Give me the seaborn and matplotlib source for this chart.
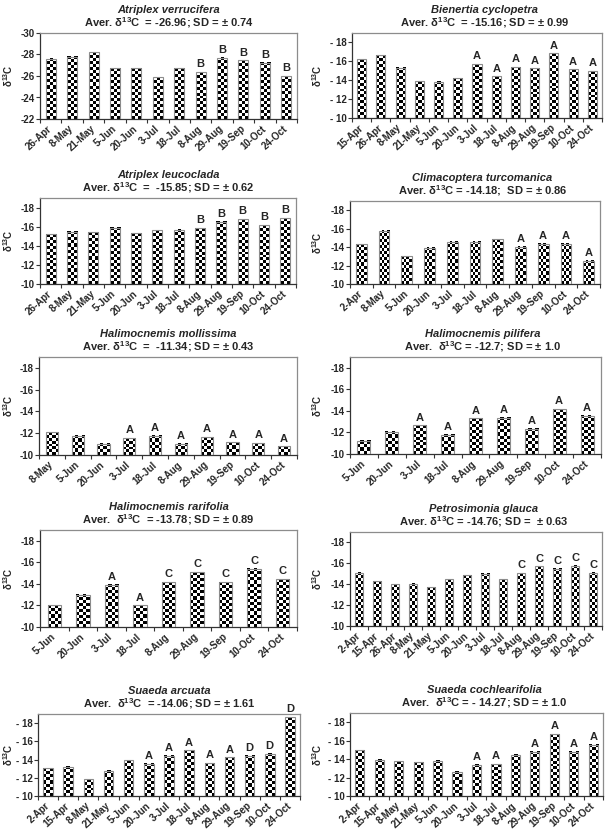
import numpy as np
import matplotlib
matplotlib.use("Agg")
import matplotlib.pyplot as plt
import seaborn as sns
import pandas as pd

# values (delta 13C, per mille)
verrucifera_dates = ["26-Apr", "8-May", "21-May", "5-Jun", "20-Jun", "3-Jul", "18-Jul", "8-Aug", "29-Aug", "19-Sep", "10-Oct", "24-Oct"]
verrucifera_vals = [-27.6, -27.8, -28.2, -26.7, -26.7, -25.9, -26.7, -26.35, -27.7, -27.45, -27.25, -26.0]
verrucifera_marks = ["", "", "", "", "", "", "", "B", "B", "B", "B", "B"]

bienertia_dates = ["15-Apr", "26-Apr", "8-May", "21-May", "5-Jun", "20-Jun", "3-Jul", "18-Jul", "8-Aug", "29-Aug", "19-Sep", "10-Oct", "24-Oct"]
bienertia_vals = [-16.2, -16.65, -15.3, -13.9, -13.85, -14.2, -15.7, -14.4, -15.4, -15.25, -16.85, -15.15, -14.95]
bienertia_marks = ["", "", "", "", "", "", "A", "A", "A", "A", "A", "A", "A"]

leucoclada_dates = ["26-Apr", "8-May", "21-May", "5-Jun", "20-Jun", "3-Jul", "18-Jul", "8-Aug", "29-Aug", "19-Sep", "10-Oct", "24-Oct"]
leucoclada_vals = [-15.2, -15.45, -15.4, -15.9, -15.3, -15.6, -15.7, -15.85, -16.5, -16.8, -16.15, -16.9]
leucoclada_marks = ["", "", "", "", "", "", "", "B", "B", "B", "B", "B"]

climacoptera_dates = ["2-Apr", "8-May", "5-Jun", "20-Jun", "3-Jul", "18-Jul", "8-Aug", "29-Aug", "19-Sep", "10-Oct", "24-Oct"]
climacoptera_vals = [-14.3, -15.75, -13.0, -13.95, -14.6, -14.6, -14.85, -14.05, -14.35, -14.35, -12.5]
climacoptera_marks = ["", "", "", "", "", "", "", "A", "A", "A", "A"]

mollissima_dates = ["8-May", "5-Jun", "20-Jun", "3-Jul", "18-Jul", "8-Aug", "29-Aug", "19-Sep", "10-Oct", "24-Oct"]
mollissima_vals = [-12.1, -11.75, -11.05, -11.55, -11.75, -11.05, -11.65, -11.15, -11.1, -10.8]
mollissima_marks = ["", "", "", "A", "A", "A", "A", "A", "A", "A"]

pilifera_dates = ["5-Jun", "20-Jun", "3-Jul", "18-Jul", "8-Aug", "29-Aug", "19-Sep", "10-Oct", "24-Oct"]
pilifera_vals = [-11.25, -12.05, -12.65, -11.8, -13.3, -13.35, -12.35, -14.15, -13.55]
pilifera_marks = ["", "", "A", "A", "A", "A", "A", "A", "A"]

rarifolia_dates = ["5-Jun", "20-Jun", "3-Jul", "18-Jul", "8-Aug", "29-Aug", "19-Sep", "10-Oct", "24-Oct"]
rarifolia_vals = [-12.0, -13.0, -13.9, -12.0, -14.15, -15.1, -14.15, -15.4, -14.45]
rarifolia_marks = ["", "", "A", "A", "C", "C", "C", "C", "C"]

glauca_dates = ["2-Apr", "15-Apr", "26-Apr", "8-May", "21-May", "5-Jun", "20-Jun", "3-Jul", "18-Jul", "8-Aug", "29-Aug", "19-Sep", "10-Oct", "24-Oct"]
glauca_vals = [-15.1, -14.3, -14.0, -14.05, -13.7, -14.5, -14.85, -15.0, -14.5, -15.05, -15.7, -15.5, -15.75, -15.1]
glauca_marks = ["", "", "", "", "", "", "", "", "", "C", "C", "C", "C", "C"]

arcuata_dates = ["2-Apr", "15-Apr", "8-May", "21-May", "5-Jun", "20-Jun", "3-Jul", "18-Jul", "8-Aug", "29-Aug", "19-Sep", "10-Oct", "24-Oct"]
arcuata_vals = [-13.05, -13.2, -11.85, -12.75, -13.9, -13.55, -14.4, -15.0, -13.6, -14.25, -14.4, -14.65, -18.65]
arcuata_marks = ["", "", "", "", "", "A", "A", "A", "A", "A", "D", "D", "D"]

cochlearifolia_dates = ["2-Apr", "15-Apr", "8-May", "21-May", "5-Jun", "20-Jun", "3-Jul", "18-Jul", "8-Aug", "29-Aug", "19-Sep", "10-Oct", "24-Oct"]
cochlearifolia_vals = [-14.95, -13.95, -13.75, -13.65, -13.8, -12.65, -13.4, -13.45, -14.5, -14.8, -16.7, -14.8, -15.55]
cochlearifolia_marks = ["", "", "", "", "", "", "A", "A", "", "A", "A", "A", "A"]

low_ticks = [-10, -12, -14, -16, -18]
high_ticks = [-22, -24, -26, -28, -30]

panels = [
    ("Atriplex verrucifera", "Aver. δ$^{13}$C  = -26.96; SD = ± 0.74",
     verrucifera_dates, verrucifera_vals, verrucifera_marks, high_ticks, "{:d}"),
    ("Bienertia cyclopetra", "Aver. δ$^{13}$C  = -15.16; SD = ± 0.99",
     bienertia_dates, bienertia_vals, bienertia_marks, low_ticks, "- {:d}"),
    ("Atriplex leucoclada", "Aver. δ$^{13}$C  =  -15.85; SD = ± 0.62",
     leucoclada_dates, leucoclada_vals, leucoclada_marks, low_ticks, "{:d}"),
    ("Climacoptera turcomanica", "Aver. δ$^{13}$C = -14.18;  SD = ± 0.86",
     climacoptera_dates, climacoptera_vals, climacoptera_marks, low_ticks, "{:d}"),
    ("Halimocnemis mollissima", "Aver. δ$^{13}$C  =  -11.34; SD = ± 0.43",
     mollissima_dates, mollissima_vals, mollissima_marks, low_ticks, "{:d}"),
    ("Halimocnemis pilifera", "Aver.  δ$^{13}$C = -12.7; SD = ± 1.0",
     pilifera_dates, pilifera_vals, pilifera_marks, low_ticks, "{:d}"),
    ("Halimocnemis rarifolia", "Aver.  δ$^{13}$C  = -13.78; SD = ± 0.89",
     rarifolia_dates, rarifolia_vals, rarifolia_marks, low_ticks, "{:d}"),
    ("Petrosimonia glauca", "Aver. δ$^{13}$C = -14.76; SD =  ± 0.63",
     glauca_dates, glauca_vals, glauca_marks, low_ticks, "{:d}"),
    ("Suaeda arcuata", "Aver.  δ$^{13}$C  = -14.06; SD = ± 1.61",
     arcuata_dates, arcuata_vals, arcuata_marks, low_ticks, "- {:d}"),
    ("Suaeda cochlearifolia", "Aver.  δ$^{13}$C = - 14.27; SD = ± 1.0",
     cochlearifolia_dates, cochlearifolia_vals, cochlearifolia_marks, low_ticks, "- {:d}"),
]

# axes boxes in pixels: left, top, right, bottom
boxes = [
    (40, 33, 297, 119), (352, 33, 602, 118),
    (40, 198, 296, 284), (350, 201, 600, 284),
    (39, 357, 297, 455), (350, 357, 601, 454),
    (40, 530, 297, 627), (350, 532, 602, 626),
    (38, 714, 300, 796), (350, 713, 603, 796),
]
# x centre (pixels) of the y-axis label for left / right column
label_x = [8, 317]

sns.set_theme(style="ticks")
plt.rcParams["font.family"] = ["Liberation Sans", "DejaVu Sans"]
plt.rcParams["font.weight"] = "bold"
plt.rcParams["axes.unicode_minus"] = False
plt.rcParams["mathtext.fontset"] = "custom"
plt.rcParams["mathtext.rm"] = "Liberation Sans:bold"
plt.rcParams["mathtext.it"] = "Liberation Sans:bold:italic"
plt.rcParams["mathtext.bf"] = "Liberation Sans:bold"
plt.rcParams["mathtext.default"] = "rm"

W, H = 605, 830
fig = plt.figure(figsize=(W / 100, H / 100), dpi=100)
fig.patch.set_facecolor("white")


def checker(ax, cell=3.0):
    # fill each bar with a black/white checkerboard
    ybot = ax.get_ylim()[0]
    for bar in ax.patches:
        x0, w = bar.get_x(), bar.get_width()
        top = bar.get_y() + bar.get_height()
        (px0, py0), (px1, py1) = ax.transData.transform([(x0, ybot), (x0 + w, top)])
        nx = max(1, int(round(abs(px1 - px0) / cell)))
        ny = max(1, int(round(abs(py1 - py0) / cell)))
        board = np.indices((ny, nx)).sum(axis=0) % 2
        ax.imshow(board, cmap="gray", vmin=0, vmax=1, extent=(x0, x0 + w, ybot, top),
                  origin="lower", interpolation="nearest", aspect="auto", zorder=2)
        bar.set_facecolor("none")
        bar.set_edgecolor("#8c8c8c")
        bar.set_linewidth(0.8)
        bar.set_zorder(3)


for k, (species, aver, dates, vals, marks, ticks, fmt) in enumerate(panels):
    l, t, r, b = boxes[k]
    ax = fig.add_axes([l / W, 1 - b / H, (r - l) / W, (b - t) / H])
    df = pd.DataFrame({"date": dates, "d13C": vals})
    sns.barplot(data=df, x="date", y="d13C", ax=ax, width=0.47, color="white",
                errorbar=None, order=dates)
    n = len(dates)
    ylim = (ticks[0], ticks[-1] - 1 if ticks[0] == -10 else ticks[-1])
    ax.set_xlim(-0.5, n - 0.5)
    ax.set_ylim(*ylim)
    checker(ax)
    ax.set_xlim(-0.5, n - 0.5)
    ax.set_ylim(*ylim)

    for bar, m in zip(ax.patches, marks):
        if m:
            ax.annotate(m, xy=(bar.get_x() + bar.get_width() / 2, bar.get_y() + bar.get_height()),
                        xytext=(0, 2), textcoords="offset points", ha="center", va="bottom",
                        fontsize=8, fontweight="bold", annotation_clip=False)

    ax.set_yticks(ticks)
    ax.set_yticklabels([fmt.format(abs(v)) if fmt.startswith("-") else fmt.format(v) for v in ticks],
                       fontsize=7, fontweight="bold")
    ax.set_xticks(range(n))
    ax.set_xticklabels(dates, rotation=42, ha="right", va="center", rotation_mode="anchor",
                       fontsize=7, fontweight="bold")
    ax.set_xticks(np.arange(n + 1) - 0.5, minor=True)
    ax.tick_params(axis="x", which="major", length=0, pad=6)
    ax.tick_params(axis="x", which="minor", length=3, width=0.8, color="#333333", direction="out")
    ax.tick_params(axis="y", length=3, width=0.8, color="#333333", direction="out", pad=1)

    ax.set_xlabel("")
    ax.set_ylabel("δ$^{13}$C", fontsize=7, fontweight="bold")
    ax.yaxis.label.set_va("center")
    ax.yaxis.set_label_coords((label_x[k % 2] - l) / (r - l), 0.5)

    for side in ["left", "bottom"]:
        ax.spines[side].set_color("#333333")
        ax.spines[side].set_linewidth(0.9)
    for side in ["top", "right"]:
        ax.spines[side].set_visible(True)
        ax.spines[side].set_color("#8c8c8c")
        ax.spines[side].set_linewidth(0.9)

    tx = 0.5 if k % 2 == 0 else 0.53
    ax.annotate(aver, xy=(tx, 1), xycoords="axes fraction", xytext=(0, 4.5),
                textcoords="offset points", ha="center", va="baseline",
                fontsize=8, fontweight="bold")
    ax.annotate(species, xy=(tx, 1), xycoords="axes fraction", xytext=(0, 14.5),
                textcoords="offset points", ha="center", va="baseline",
                fontsize=8, fontweight="bold", fontstyle="italic")

fig.savefig("out.png", dpi=100, facecolor="white")
